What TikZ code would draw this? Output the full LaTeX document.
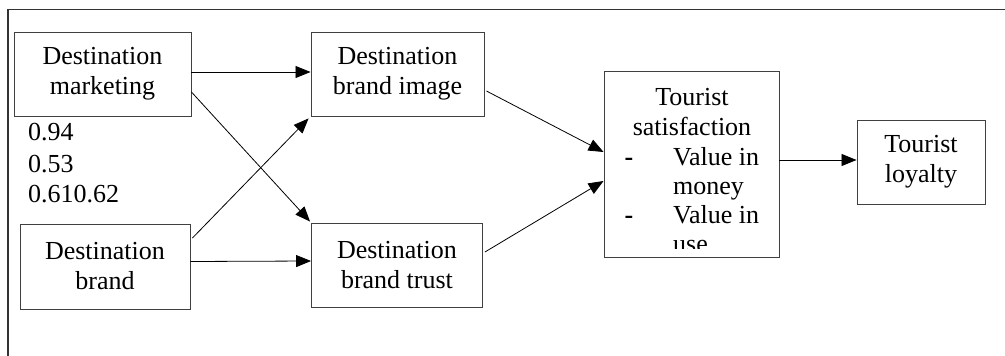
\documentclass[tikz,border=0pt]{standalone}
\usepackage{fontspec}
\setmainfont{Liberation Serif}
\usetikzlibrary{arrows.meta,calc}
\begin{document}
\begin{tikzpicture}[x=1pt,y=-1pt,
  box/.style={draw=black!75, line width=0.9pt, inner sep=0pt, align=center,
    font=\fontsize{26}{30}\selectfont},
  txt/.style={inner sep=0pt, font=\fontsize{26}{30}\selectfont},
  arr/.style={line width=0.8pt, -{Triangle[length=15pt,width=12pt]}}]
\useasboundingbox (0,0) rectangle (1005,356);
\fill[white] (0,0) rectangle (1005,356);
% frame (only top and left edges visible)
\coordinate (ftr) at (1006,9.5);
\coordinate (ftl) at (8,9.5);
\coordinate (fbl) at (8,357);
\draw[line width=1.3pt, black!80] (ftr) -- (ftl) -- (fbl);
% boxes
\node[box, minimum width=177pt, minimum height=84pt] (dm) at (102.5,74) {Destination\\marketing};
\node[box, minimum width=170pt, minimum height=85pt] (db) at (105,266.5) {Destination\\brand};
\node[box, minimum width=173pt, minimum height=84pt] (dbi) at (397.5,74) {Destination\\brand image};
\node[box, minimum width=171pt, minimum height=84pt] (dbt) at (397,265) {Destination\\brand trust};
\node[box, minimum width=175pt, minimum height=186pt] (ts) at (691.5,164) {};
\node[box, minimum width=128pt, minimum height=84pt] (tl) at (921,162) {Tourist\\loyalty};
% numbers
\node[txt, anchor=base west] (n1) at (28,140) {0.94};
\node[txt, anchor=base west] (n2) at (28,172) {0.53};
\node[txt, anchor=base west] (n3) at (28,202) {0.610.62};
% tourist satisfaction text
\begin{scope}
\clip (605,72) rectangle (778,248);
\node[txt, anchor=base] (ts1) at (692,105) {Tourist};
\node[txt, anchor=base] (ts2) at (692,135) {satisfaction};
\node[txt, anchor=base west] (ts3) at (673,165) {Value in};
\node[txt, anchor=base west] (ts4) at (673,194) {money};
\node[txt, anchor=base west] (ts5) at (673,223) {Value in};
\node[txt, anchor=base west] (ts6) at (673,252) {use};
\node[txt, anchor=base] (d1) at (629,165) {\textbf{-}};
\node[txt, anchor=base] (d2) at (629,223) {\textbf{-}};
\end{scope}
% arrows
\draw[arr] ($(dm.east)+(0,-2)$) -- ($(dbi.west)+(0,-2)$);
\draw[arr] ($(dm.east)+(0,18)$) -- ($(dbt.north west)+(-1,-1)$);
\draw[arr] ($(db.east)+(2,-28.5)$) -- ($(dbi.south west)+(-2,2)$);
\draw[arr] ($(db.east)+(0,-5)$) -- ($(dbt.west)+(0,-4)$);
\draw[arr] ($(dbi.east)+(2,17)$) -- ($(ts.west)+(0,-12)$);
\draw[arr] ($(dbt.east)+(2,-13)$) -- ($(ts.west)+(0,17)$);
\draw[arr] ($(ts.east)+(0,-4)$) -- ($(tl.west)+(0,-2)$);
\end{tikzpicture}
\end{document}
